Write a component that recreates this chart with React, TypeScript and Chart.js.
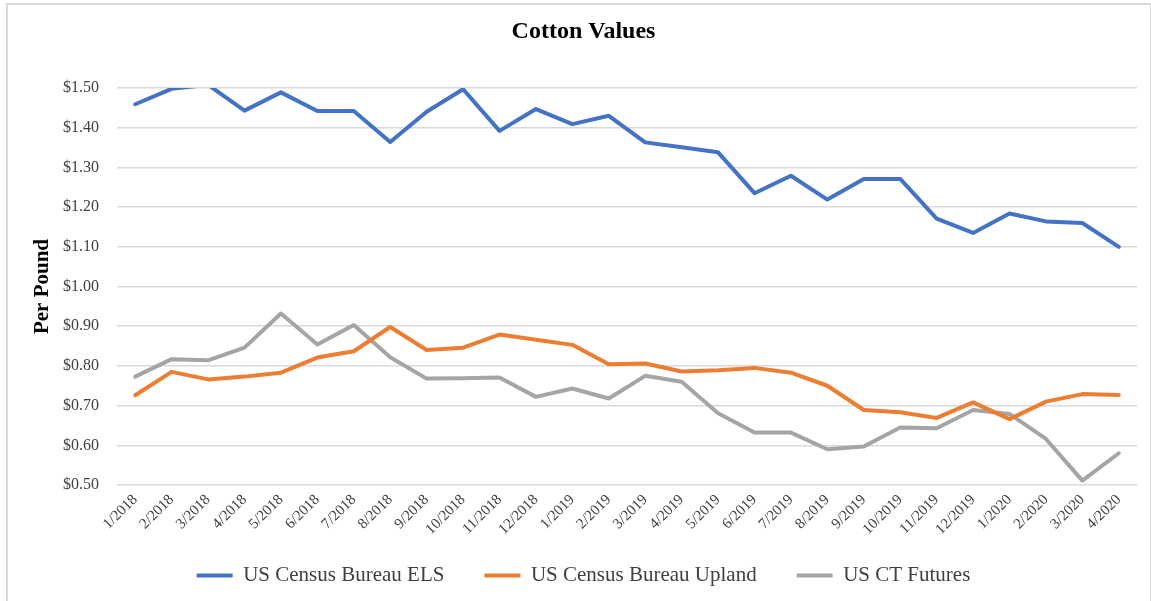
import React, { useEffect, useRef } from "react";
import { Chart, registerables } from "chart.js";

Chart.register(...registerables);

const months = [
  "1/2018", "2/2018", "3/2018", "4/2018", "5/2018", "6/2018", "7/2018",
  "8/2018", "9/2018", "10/2018", "11/2018", "12/2018", "1/2019", "2/2019",
  "3/2019", "4/2019", "5/2019", "6/2019", "7/2019", "8/2019", "9/2019",
  "10/2019", "11/2019", "12/2019", "1/2020", "2/2020", "3/2020", "4/2020",
];

const elsValues = [
  1.459, 1.498, 1.508, 1.443, 1.489, 1.442, 1.442, 1.364, 1.44, 1.497,
  1.392, 1.447, 1.409, 1.43, 1.363, 1.351, 1.338, 1.235, 1.279, 1.219,
  1.271, 1.271, 1.171, 1.135, 1.184, 1.164, 1.16, 1.1,
];

const uplandValues = [
  0.726, 0.785, 0.766, 0.773, 0.783, 0.821, 0.837, 0.898, 0.84, 0.846,
  0.879, 0.866, 0.853, 0.804, 0.806, 0.786, 0.789, 0.795, 0.783, 0.75,
  0.689, 0.683, 0.669, 0.708, 0.666, 0.71, 0.729, 0.727,
];

const futuresValues = [
  0.773, 0.817, 0.814, 0.846, 0.932, 0.854, 0.903, 0.822, 0.768, 0.769,
  0.771, 0.722, 0.743, 0.718, 0.775, 0.76, 0.681, 0.632, 0.632, 0.59,
  0.597, 0.645, 0.643, 0.689, 0.679, 0.616, 0.511, 0.58,
];

const seriesNames = ["US Census Bureau ELS", "US Census Bureau Upland", "US CT Futures"];
const seriesColors = ["#4472C4", "#ED7D31", "#A5A5A5"];

const yMin = 0.5;
const yMax = 1.5;
const yStep = 0.1;

const SERIF = "'Liberation Serif', 'Times New Roman', serif";

export default function App() {
  const ref = useRef<HTMLCanvasElement>(null);

  useEffect(() => {
    document.body.style.margin = "0";
    const values = [elsValues, uplandValues, futuresValues];
    const chart = new Chart(ref.current as HTMLCanvasElement, {
      type: "line",
      data: {
        labels: months,
        datasets: values.map((v, i) => ({
          label: seriesNames[i],
          data: v,
          borderColor: seriesColors[i],
          backgroundColor: seriesColors[i],
          borderWidth: 4,
          pointRadius: 0,
          tension: 0,
          borderCapStyle: "round" as const,
          borderJoinStyle: "round" as const,
          fill: false,
        })),
      },
      options: {
        responsive: false,
        animation: false,
        layout: { padding: { left: 30, right: 14, top: 0, bottom: 5 } },
        plugins: {
          title: {
            display: true,
            text: "Cotton Values",
            color: "#000",
            font: { family: SERIF, size: 24, weight: "bold" },
            padding: { top: 17.6, bottom: 41.6 },
          },
          legend: {
            position: "bottom",
            labels: {
              font: { family: SERIF, size: 21 },
              color: "#404040",
              boxWidth: 36,
              boxHeight: 4,
              padding: 40,
              generateLabels: (c: any) =>
                Chart.defaults.plugins.legend.labels
                  .generateLabels(c)
                  .map((item: any) => ({ ...item, lineWidth: 0, fillStyle: item.strokeStyle })),
            },
          },
          tooltip: { enabled: false },
        },
        scales: {
          x: {
            offset: true,
            grid: { display: false, drawTicks: false },
            border: { display: false },
            ticks: {
              autoSkip: false,
              minRotation: 45,
              maxRotation: 45,
              padding: 6,
              color: "#404040",
              font: { family: SERIF, size: 15 },
            },
            afterFit: (s: any) => {
              s.height = 40;
              s._computeLabelArea = () => undefined;
            },
          },
          y: {
            min: yMin,
            max: yMax,
            ticks: {
              stepSize: yStep,
              padding: 18,
              color: "#404040",
              font: { family: SERIF, size: 16 },
              callback: (v: any) => "$" + Number(v).toFixed(2),
            },
            grid: { color: "#d9d9d9", lineWidth: 1.5, drawTicks: false },
            border: { display: false },
            title: {
              display: true,
              text: "Per Pound",
              color: "#000",
              font: { family: SERIF, size: 21, weight: "bold" },
              padding: { top: 0, bottom: 0 },
            },
            afterFit: (s: any) => {
              s.width = 87;
            },
          },
        },
      },
    });
    return () => chart.destroy();
  }, []);

  return (
    <div style={{ position: "relative", width: 1151, height: 601, overflow: "hidden", background: "#fff" }}>
      <canvas ref={ref} width={1151} height={601} style={{ position: "absolute", left: 0, top: 0 }} />
      <div
        style={{
          position: "absolute",
          left: 6,
          top: 3,
          width: 1142,
          height: 700,
          borderLeft: "2px solid #d9d9d9",
          borderTop: "2px solid #d9d9d9",
          borderRight: "2px solid #d9d9d9",
          pointerEvents: "none",
        }}
      />
    </div>
  );
}
